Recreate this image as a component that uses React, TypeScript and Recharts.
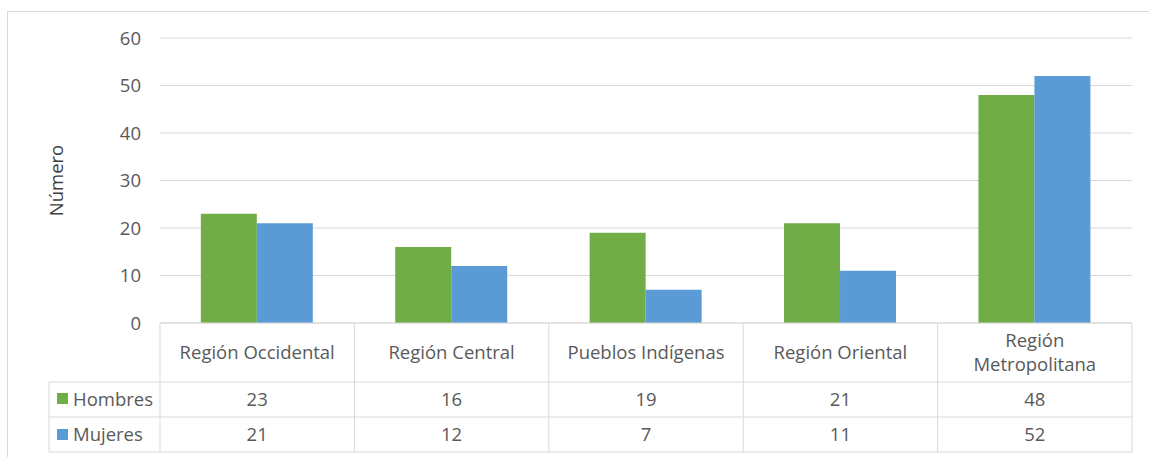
import React from 'react';
import { BarChart, Bar, XAxis, YAxis, CartesianGrid } from 'recharts';

const categories = ['Región Occidental', 'Región Central', 'Pueblos Indígenas', 'Región Oriental', 'Región Metropolitana'];
const hombres = [23, 16, 19, 21, 48];
const mujeres = [21, 12, 7, 11, 52];
const yTicks = [0, 10, 20, 30, 40, 50, 60];

const GREEN = '#70AD47';
const BLUE = '#5B9BD5';
const TEXT = '#595959';
const LINE = '#D9D9D9';
const FONT = '"Open Sans", sans-serif';
const FS = 18.5;

const W = 1149;
const H = 457;
const PLOT_LEFT = 160;
const PLOT_RIGHT = 1132;
const PLOT_TOP = 38;
const PLOT_BOTTOM = 323;
const ROW1 = 382;
const ROW2 = 417;
const ROW3 = 452;
const LEGEND_LEFT = 49;

const data = categories.map((name, i) => ({ name, Hombres: hombres[i], Mujeres: mujeres[i] }));

const TableTick = (props: any) => {
  const { x, payload } = props;
  const i = payload.index;
  const band = (PLOT_RIGHT - PLOT_LEFT) / categories.length;
  const left = x - band / 2;
  const right = x + band / 2;
  const label: string = payload.value;
  const words = label.split(' ');
  const twoLines = label.length > 18;
  const headMid = (PLOT_BOTTOM + ROW1) / 2;
  const txt = { fill: TEXT, fontSize: FS, fontFamily: FONT };
  return (
    <g>
      <line x1={left} y1={PLOT_BOTTOM} x2={right} y2={PLOT_BOTTOM} stroke={LINE} />
      <line x1={left} y1={ROW1} x2={right} y2={ROW1} stroke={LINE} />
      <line x1={left} y1={ROW2} x2={right} y2={ROW2} stroke={LINE} />
      <line x1={left} y1={ROW3} x2={right} y2={ROW3} stroke={LINE} />
      <line x1={left} y1={PLOT_BOTTOM} x2={left} y2={ROW3} stroke={LINE} />
      {i === categories.length - 1 && (
        <line x1={right} y1={PLOT_BOTTOM} x2={right} y2={ROW3} stroke={LINE} />
      )}
      {twoLines ? (
        <text x={x} y={headMid - 6} textAnchor="middle" {...txt}>
          <tspan x={x}>{words[0]}</tspan>
          <tspan x={x} dy={24}>{words.slice(1).join(' ')}</tspan>
        </text>
      ) : (
        <text x={x} y={headMid + 6} textAnchor="middle" {...txt}>
          {label}
        </text>
      )}
      <text x={x} y={(ROW1 + ROW2) / 2 + 6} textAnchor="middle" {...txt}>
        {hombres[i]}
      </text>
      <text x={x} y={(ROW2 + ROW3) / 2 + 6} textAnchor="middle" {...txt}>
        {mujeres[i]}
      </text>
      {i === 0 && (
        <g>
          <line x1={LEGEND_LEFT} y1={ROW1} x2={left} y2={ROW1} stroke={LINE} />
          <line x1={LEGEND_LEFT} y1={ROW2} x2={left} y2={ROW2} stroke={LINE} />
          <line x1={LEGEND_LEFT} y1={ROW3} x2={left} y2={ROW3} stroke={LINE} />
          <line x1={LEGEND_LEFT} y1={ROW1} x2={LEGEND_LEFT} y2={ROW3} stroke={LINE} />
          <rect x={57} y={393} width={11} height={11} fill={GREEN} />
          <text x={73} y={(ROW1 + ROW2) / 2 + 6} {...txt}>Hombres</text>
          <rect x={57} y={429} width={11} height={11} fill={BLUE} />
          <text x={73} y={(ROW2 + ROW3) / 2 + 6} {...txt}>Mujeres</text>
        </g>
      )}
    </g>
  );
};

const YLabel = (props: any) => {
  const vb = props.viewBox || { y: PLOT_TOP, height: PLOT_BOTTOM - PLOT_TOP };
  const cy = vb.y + vb.height / 2;
  const cx = 55;
  return (
    <text x={cx} y={cy} transform={`rotate(-90, ${cx}, ${cy})`} textAnchor="middle" dominantBaseline="central" fill="#404040" fontSize={FS} fontFamily={FONT}>
      Número
    </text>
  );
};

export default function App() {
  return (
    <div style={{ position: 'absolute', left: 0, top: 0, width: W, height: H, overflow: 'hidden', background: '#fff' }}>
      <div style={{ position: 'absolute', left: 7, top: 11, width: 1180, height: 480, border: `1px solid ${LINE}` }} />
      <div style={{ position: 'absolute', left: 0, top: 0 }}>
        <BarChart
          width={W}
          height={H}
          data={data}
          margin={{ top: PLOT_TOP, right: W - PLOT_RIGHT, left: 0, bottom: 0 }}
          barCategoryGap="21%"
          barGap={0}
        >
          <CartesianGrid vertical={false} stroke={LINE} strokeWidth={1} />
          <XAxis
            dataKey="name"
            axisLine={false}
            tickLine={false}
            height={H - PLOT_BOTTOM}
            tick={<TableTick />}
            interval={0}
          />
          <YAxis
            domain={[0, 60]}
            ticks={yTicks}
            width={PLOT_LEFT}
            axisLine={false}
            tickLine={false}
            tick={{ fill: TEXT, fontSize: FS, fontFamily: FONT }}
            tickMargin={13}
            label={<YLabel />}
          />
          <Bar dataKey="Hombres" fill={GREEN} isAnimationActive={false} />
          <Bar dataKey="Mujeres" fill={BLUE} isAnimationActive={false} />
        </BarChart>
      </div>
    </div>
  );
}
